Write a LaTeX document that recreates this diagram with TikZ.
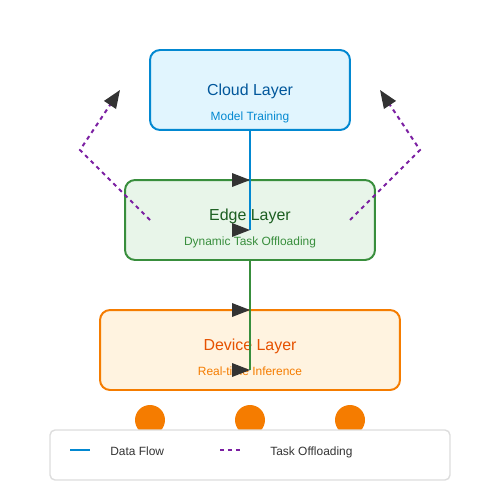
\documentclass[tikz,border=0pt]{standalone}
\usepackage{fontspec}
\setmainfont{Liberation Sans}
\usetikzlibrary{arrows.meta}

\definecolor{cloudfill}{HTML}{E1F5FE}
\definecolor{cloudline}{HTML}{0288D1}
\definecolor{cloudtext}{HTML}{01579B}
\definecolor{edgefill}{HTML}{E8F5E9}
\definecolor{edgeline}{HTML}{388E3C}
\definecolor{edgetext}{HTML}{1B5E20}
\definecolor{devfill}{HTML}{FFF3E0}
\definecolor{devline}{HTML}{F57C00}
\definecolor{devtext}{HTML}{E65100}
\definecolor{offpurple}{HTML}{7B1FA2}
\definecolor{tipgray}{HTML}{333333}
\definecolor{legline}{HTML}{DDDDDD}

\begin{document}
\begin{tikzpicture}[x=0.02cm, y=-0.02cm,
    layerbox/.style = {draw, rounded corners=0.2cm, line width=1.13pt,
    minimum height=1.6cm, inner sep=0pt, outer sep=0pt},
    titletext/.style = {anchor=base, inner sep=0pt, font=\fontsize{9.07}{11}\selectfont},
    subtext/.style = {anchor=base, inner sep=0pt, font=\fontsize{6.8}{8}\selectfont},
    legtext/.style = {anchor=base west, inner sep=0pt, text=tipgray,
    font=\fontsize{6.8}{8}\selectfont},
    flow/.style = {line width=1.13pt},
    offload/.style = {line width=1.13pt, offpurple, dash pattern=on 2.27pt off 2.27pt},
    offarrow/.style = {offload, -{Triangle[length=0.36cm, width=0.28cm, color=tipgray]}},
    devdot/.style = {circle, fill=devline, minimum size=0.6cm, inner sep=0pt},
    pics/flowtip/.style = {code={\fill[tipgray] (0,0) -- (-18,-7) -- (-18,7) -- cycle;}}]
    \useasboundingbox (0,0) rectangle (500,500);
    % layers
    \node[layerbox, draw=cloudline, fill=cloudfill, minimum width=4cm] (cloud) at (250,90) {};
    \node[layerbox, draw=edgeline, fill=edgefill, minimum width=5cm] (edge) at (250,220) {};
    \node[layerbox, draw=devline, fill=devfill, minimum width=6cm] (device) at (250,350) {};
    \node[titletext, text=cloudtext] (cloudT) at (250,95) {Cloud Layer};
    \node[subtext, text=cloudline] (cloudS) at (250,120) {Model Training};
    \node[titletext, text=edgetext] (edgeT) at (250,220) {Edge Layer};
    \node[subtext, text=edgeline] (edgeS) at (250,245) {Dynamic Task Offloading};
    \node[titletext, text=devtext] (deviceT) at (250,350) {Device Layer};
    \node[subtext, text=devline] (deviceS) at (250,375) {Real-time Inference};
    % data flow
    \coordinate (edgeEnd) at (250,230);
    \coordinate (devEnd) at (250,370);
    \draw[flow, cloudline] (cloud.south) -- (edgeEnd);
    \draw[flow, edgeline] (edge.south) -- (devEnd);
    \pic at (edge.north) {flowtip};
    \pic at (edgeEnd) {flowtip};
    \pic at (device.north) {flowtip};
    \pic at (devEnd) {flowtip};
    % task offloading
    \coordinate (offL) at (150,220);
    \coordinate (bendL) at (80,150);
    \coordinate (topL) at (120,90);
    \coordinate (offR) at (350,220);
    \coordinate (bendR) at (420,150);
    \coordinate (topR) at (380,90);
    \draw[offarrow] (offL) -- (bendL) -- (topL);
    \draw[offarrow] (offR) -- (bendR) -- (topR);
    % devices
    \node[devdot] (dev1) at (150,420) {};
    \node[devdot] (dev2) at (250,420) {};
    \node[devdot] (dev3) at (350,420) {};
    % legend
    \node[draw=legline, fill=white, line width=0.8pt, rounded corners=0.1cm,
        minimum width=8cm, minimum height=1cm, inner sep=0pt] (legend) at (250,455) {};
    \coordinate (flowA) at (70,450);
    \coordinate (flowB) at (90,450);
    \coordinate (offA) at (220,450);
    \coordinate (offB) at (240,450);
    \draw[flow, cloudline] (flowA) -- (flowB);
    \draw[offload] (offA) -- (offB);
    \node[legtext] (flowLab) at (110,455) {Data Flow};
    \node[legtext] (offLab) at (270,455) {Task Offloading};
\end{tikzpicture}
\end{document}
